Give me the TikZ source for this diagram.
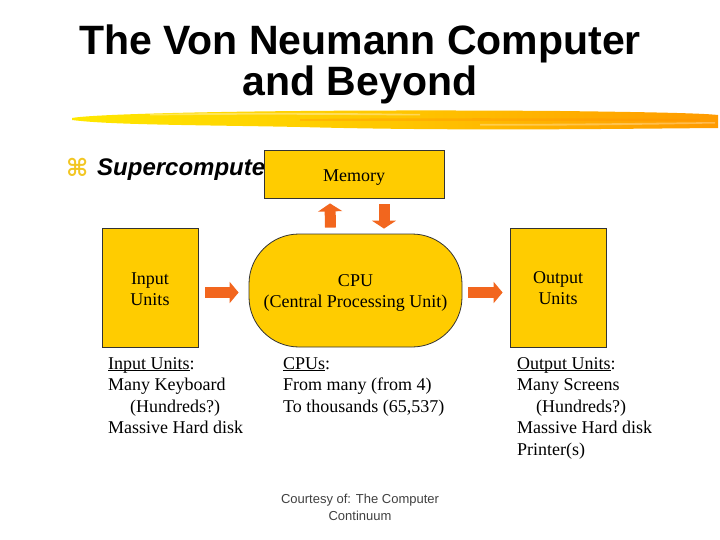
\documentclass[tikz,border=0pt]{standalone}
\usepackage{fontspec}
\setmainfont{Liberation Serif}
\newfontfamily\arialf{Liberation Sans}
\newfontfamily\djv{DejaVu Sans}
\usetikzlibrary{arrows.meta,calc}
\definecolor{gold}{HTML}{FFCC00}
\definecolor{blkorange}{HTML}{F2661E}
\definecolor{bulletyellow}{HTML}{F2C623}
\newcommand\myuline[1]{\setbox0\hbox{#1}\rlap{\rule[-2.2pt]{\wd0}{0.9pt}}\box0}
\tikzset{
  unitbox/.style={draw=black!80, line width=0.8pt, fill=gold, minimum width=96pt, minimum height=119pt, inner sep=0pt},
  cpubox/.style={draw=black!80, line width=0.8pt, fill=gold, minimum width=213pt, minimum height=113pt, rounded corners=50pt, inner sep=0pt},
  boxlabel/.style={align=center, inner sep=0pt, font=\fontsize{18}{21}\selectfont},
  membox/.style={draw=black!80, line width=0.8pt, fill=gold, minimum width=180pt, minimum height=48pt, inner sep=0pt, text height=15pt, text depth=0pt, font=\fontsize{18}{20}\selectfont},
  hblk/.style={blkorange, line width=11pt, -{Triangle[width=21pt,length=9pt]}},
  vblk/.style={blkorange, line width=11pt, -{Triangle[width=24pt,length=8pt]}},
  notes/.style={anchor=north west, align=left, inner sep=0pt, font=\fontsize{18}{21.5}\selectfont},
  titletext/.style={font=\arialf\bfseries\fontsize{41}{41}\selectfont, anchor=base, inner sep=0pt}
}
\begin{document}
\begin{tikzpicture}[x=1pt,y=-1pt]
\useasboundingbox (0,0) rectangle (720,540);
% title
\node[titletext] (t1) at (360,55) {The Von Neumann Computer};
\node[titletext] (t2) at (360,96) {and Beyond};
% brush stroke
\shade[left color=yellow!55!gold, right color=orange!65!gold, middle color=gold!92!orange]
  (72,118) .. controls (100,113) and (300,109) .. (560,111)
  .. controls (640,112) and (700,113) .. (718,115) -- (718,128)
  .. controls (600,129) and (450,131) .. (300,127)
  .. controls (200,125) and (110,125) .. (72,120) -- cycle;
\fill[white, opacity=0.35] (150,114) .. controls (250,112) and (350,113) .. (420,114) -- (420,115.5) .. controls (350,115) and (250,114) .. (150,115.5) -- cycle;
\fill[white, opacity=0.3] (480,124) .. controls (560,124) and (640,123) .. (715,122) -- (715,123.5) .. controls (640,125) and (560,126) .. (480,125.5) -- cycle;
\fill[orange!80!gold, opacity=0.35] (300,119) .. controls (400,118) and (550,118) .. (700,119) -- (700,121) .. controls (550,121) and (400,121) .. (300,121) -- cycle;
% bullet line
\node[anchor=base west, inner sep=0pt, text=bulletyellow, font=\djv\bfseries\fontsize{24}{24}\selectfont] (bul) at (66,177) {⌘};
\node[anchor=base west, inner sep=0pt, font=\arialf\bfseries\itshape\fontsize{24}{24}\selectfont] (sup) at (97,176) {Supercomputers};
% boxes
\node[membox] (mem) at (354,174) {Memory};
\node[unitbox] (inp) at (150,287.5) {};
\node[cpubox] (cpu) at (355.5,290.5) {};
\node[unitbox] (out) at (558,287.5) {};
\node[boxlabel] (inplbl) at ($(inp.center)+(0,2)$) {Input\\Units};
\node[boxlabel] (cpulbl) at ($(cpu.center)+(0,2)$) {CPU\\(Central Processing Unit)};
\node[boxlabel] (outlbl) at ($(out.center)+(0,1)$) {Output\\Units};
% block arrows
\draw[hblk] ($(inp.east)+(7,5)$) -- ($(cpu.west)+(-10,2)$);
\draw[hblk] ($(cpu.east)+(6,2)$) -- ($(out.west)+(-7,5)$);
\draw[vblk] ($(cpu.north)+(-25,-6)$) -- ($(mem.south)+(-24,5)$);
\draw[vblk] ($(mem.south)+(30,6)$) -- ($(cpu.north)+(28.5,-5)$);
% notes
\node[notes] (ninp) at (108,357) {\myuline{Input Units}:\\Many Keyboard\\\hspace{22pt}(Hundreds?)\\Massive Hard disk};
\node[notes] (ncpu) at (283,357) {\myuline{CPUs}:\\From many (from 4)\\To thousands (65,537)};
\node[notes] (nout) at (517,357) {\myuline{Output Units}:\\Many Screens\\\hspace{19pt}(Hundreds?)\\Massive Hard disk\\Printer(s)};
% courtesy
\node[anchor=base, align=center, inner sep=0pt, text=black!75, font=\arialf\fontsize{13}{16.5}\selectfont] (court) at (360,520) {Courtesy of: The Computer\\Continuum};
\end{tikzpicture}
\end{document}
